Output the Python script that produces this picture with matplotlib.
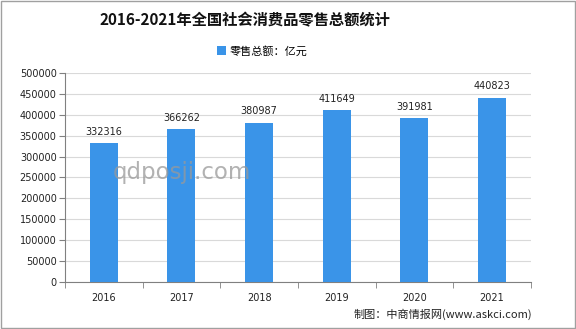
import matplotlib
matplotlib.use("Agg")
import matplotlib.pyplot as plt
from matplotlib.patches import Rectangle

plt.rcParams['font.family'] = ['Noto Sans CJK SC', 'DejaVu Sans']

years = ["2016", "2017", "2018", "2019", "2020", "2021"]
sales = [332316, 366262, 380987, 411649, 391981, 440823]
y_ticks = [0, 50000, 100000, 150000, 200000, 250000, 300000, 350000, 400000, 450000, 500000]

bar_color = "#3a94e8"
grid_color = "#d9d9d9"
axis_color = "#808080"

fig = plt.figure(figsize=(5.76, 3.29), dpi=100)
fig.patch.set_facecolor("white")
fig.patches.append(Rectangle((0.002, 0.003), 0.996, 0.994, transform=fig.transFigure,
                             fill=False, edgecolor="#a0a0a0", linewidth=1.0))

ax = fig.add_axes([0.1128, 0.1429, 0.809, 0.6353])
x = list(range(len(years)))
ax.bar(x, sales, width=0.36, color=bar_color, zorder=3, label="零售总额：亿元")
for xi, v in zip(x, sales):
    ax.text(xi, v + 15000, str(v), ha="center", va="bottom", fontsize=7, color="#222222",
            family="DejaVu Sans")

ax.set_xlim(-0.5, len(years) - 0.5)
ax.set_ylim(0, 500000)
ax.set_yticks(y_ticks)
ax.set_yticklabels([str(t) for t in y_ticks], family="DejaVu Sans", fontsize=7, color="#222222")
ax.set_xticks(x)
ax.set_xticklabels(years, family="DejaVu Sans", fontsize=7, color="#222222")
ax.set_xticks([i - 0.5 for i in range(len(years) + 1)], minor=True)
ax.tick_params(axis="x", which="major", length=0, pad=8)
ax.tick_params(axis="x", which="minor", length=4, color=axis_color, direction="out")
ax.tick_params(axis="y", length=4, color=axis_color, direction="out", pad=2)
ax.yaxis.grid(True, color=grid_color, linewidth=0.8, zorder=0)
for s in ["top", "right"]:
    ax.spines[s].set_visible(False)
for s in ["left", "bottom"]:
    ax.spines[s].set_color(axis_color)
    ax.spines[s].set_linewidth(0.8)

fig.text(0.425, 0.937, "2016-2021年全国社会消费品零售总额统计", ha="center", va="center",
         fontsize=11, fontweight="bold", color="#111111")
fig.legend(loc="center", bbox_to_anchor=(0.455, 0.845), frameon=False, fontsize=8,
           handlelength=0.8, handleheight=0.8, handletextpad=0.3)

fig.text(0.315, 0.475, "qdposji.com", ha="center", va="center", fontsize=16.5,
         color="#999999", alpha=0.75, family="DejaVu Sans", zorder=10)

fig.text(0.924, 0.045, "制图：中商情报网(www.askci.com)", ha="right", va="center",
         fontsize=8, color="#222222")

fig.savefig("out.png", dpi=100)
